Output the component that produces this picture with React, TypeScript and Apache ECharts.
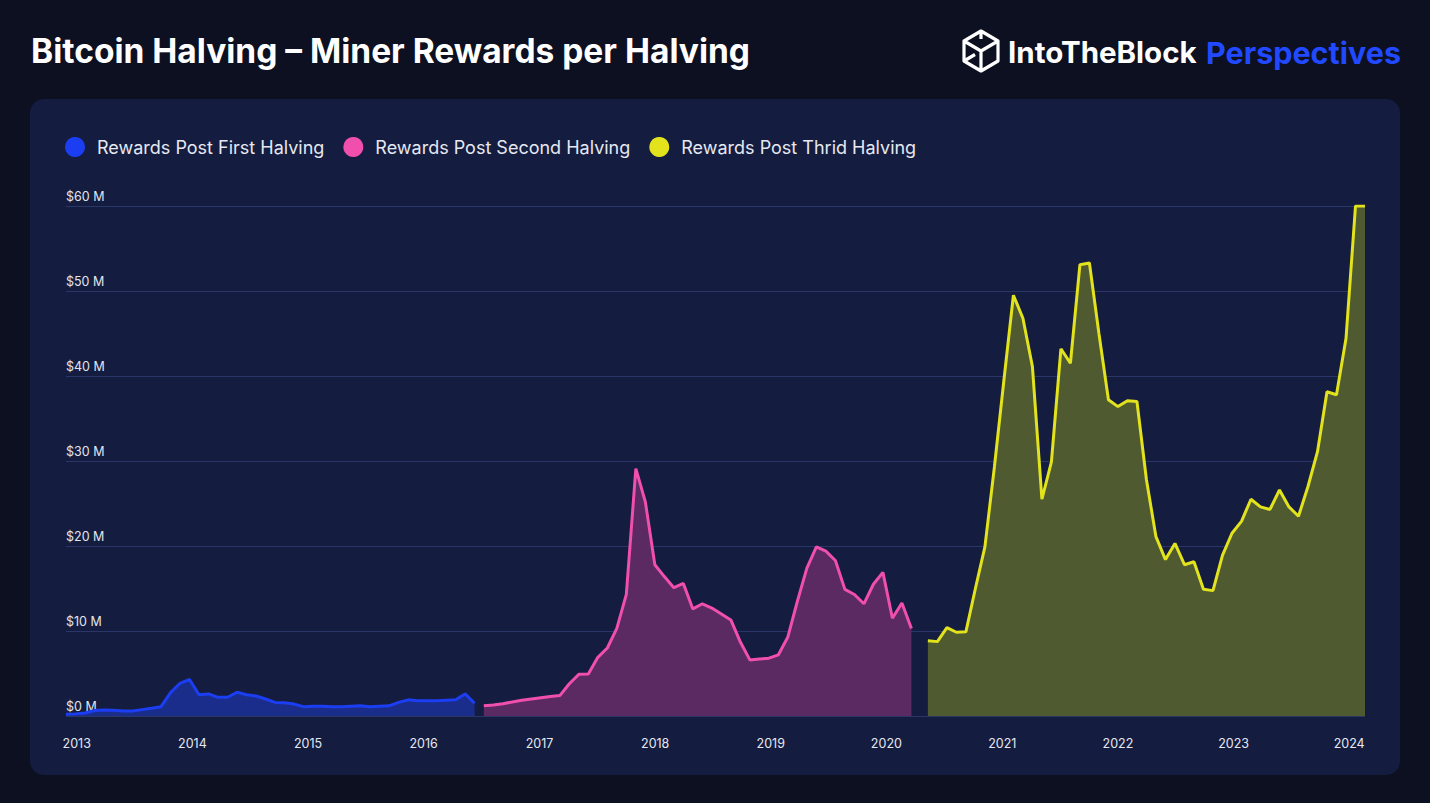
import React, { useEffect, useRef } from "react";
import * as echarts from "echarts";

const seriesNames = [
  "Rewards Post First Halving",
  "Rewards Post Second Halving",
  "Rewards Post Thrid Halving",
];
const seriesStarts = ["2012-11-28", "2016-07-09", "2020-05-11"];
const stepDays = 30;

// Miner rewards in $M, one value every 30 days from each halving
const blueValues = [
  0.2, 0.25, 0.35, 0.65, 0.7, 0.67, 0.6, 0.6, 0.75, 0.9,
  1.1, 2.75, 3.85, 4.3, 2.5, 2.6, 2.2, 2.2, 2.8, 2.5,
  2.35, 2.0, 1.6, 1.57, 1.4, 1.1, 1.15, 1.15, 1.1, 1.1,
  1.15, 1.2, 1.1, 1.15, 1.2, 1.6, 1.9, 1.8, 1.8, 1.8,
  1.85, 1.9, 2.6, 1.5,
];
const pinkValues = [
  1.2, 1.3, 1.45, 1.65, 1.85, 2.0, 2.15, 2.3, 2.4, 3.8,
  4.9, 4.95, 6.9, 8.0, 10.3, 14.3, 29.1, 25.2, 17.8, 16.4,
  15.1, 15.6, 12.6, 13.2, 12.7, 12.0, 11.3, 8.7, 6.6, 6.7,
  6.8, 7.2, 9.3, 13.5, 17.4, 19.9, 19.4, 18.3, 14.9, 14.3,
  13.2, 15.5, 16.9, 11.5, 13.3, 10.3,
];
const yellowValues = [
  8.85, 8.75, 10.4, 9.85, 9.9, 15.0, 19.9, 29.3, 39.5, 49.5,
  46.8, 41.1, 25.5, 29.9, 43.2, 41.5, 53.1, 53.3, 45.0, 37.2,
  36.4, 37.1, 37.0, 27.8, 21.1, 18.4, 20.3, 17.8, 18.15, 14.9,
  14.75, 18.9, 21.5, 22.9, 25.5, 24.6, 24.3, 26.6, 24.6, 23.5,
  27.0, 31.1, 38.15, 37.8, 44.4, 60.0, 60.0,
];
const allValues = [blueValues, pinkValues, yellowValues];

const lineColors = ["#1c3ef2", "#f04fae", "#e2e31c"];
const areaColors = ["#1a2d8a", "#5b2a62", "#4f5a30"];

const yMin = 0;
const yMax = 60;
const yInterval = 10;

const DAY = 24 * 3600 * 1000;
function toPoints(start: string, vals: number[]) {
  const t0 = new Date(start + "T00:00:00").getTime();
  return vals.map((v, i) => [t0 + i * stepDays * DAY, v]);
}

const LOGO_D =
  "M18 1 L35 11 L35 31 L18 41 L1 31 L1 11 Z M1 11 L18 21 L35 11 M18 21 L18 41 M1 31 L12 24.5 M18 1 L18 9";
let registered = false;
function ensureShape() {
  if (registered) return;
  echarts.graphic.registerShape("logo", echarts.graphic.extendPath(LOGO_D, {}) as any);
  registered = true;
}

export default function App() {
  const ref = useRef<HTMLDivElement>(null);
  useEffect(() => {
    if (!ref.current) return;
    ensureShape();
    const chart = echarts.init(ref.current, undefined, { renderer: "svg" });
    const pts = allValues.map((v, i) => toPoints(seriesStarts[i], v));
    const xMin = pts[0][0][0] as number;
    const lastY = pts[2][pts[2].length - 1][0] as number;
    chart.setOption({
      animation: false,
      backgroundColor: "#0c1020",
      textStyle: { fontFamily: "Inter" },
      graphic: [
        {
          type: "rect",
          z: -10,
          shape: { x: 30, y: 99, width: 1370, height: 676, r: 14 },
          style: { fill: "#141c3f" },
        },
        {
          type: "text",
          x: 31,
          y: 51,
          style: {
            text: "Bitcoin Halving – Miner Rewards per Halving",
            fill: "#ffffff",
            fontSize: 33.5,
            fontWeight: 700,
            fontFamily: "Inter",
            verticalAlign: "middle",
          },
        },
        {
          type: "logo",
          x: 963,
          y: 30,
          style: { stroke: "#ffffff", lineWidth: 3.2, fill: null, lineJoin: "round" },
        },
        {
          type: "text",
          x: 1008,
          y: 52,
          style: {
            text: "IntoTheBlock",
            fill: "#ffffff",
            fontSize: 29.5,
            fontWeight: 700,
            fontFamily: "Inter",
            verticalAlign: "middle",
          },
        },
        {
          type: "text",
          x: 1401,
          y: 52,
          style: {
            text: "Perspectives",
            fill: "#2149ff",
            fontSize: 30.5,
            fontWeight: 700,
            fontFamily: "Inter",
            align: "right",
            verticalAlign: "middle",
          },
        },
      ],
      legend: {
        left: 65,
        top: 137,
        padding: 0,
        icon: "circle",
        itemWidth: 20,
        itemHeight: 20,
        itemGap: 19,
        data: seriesNames,
        textStyle: {
          color: "#e6e8f1",
          fontSize: 18,
          fontFamily: "Inter",
          padding: [0, 0, 0, 7],
        },
      },
      grid: { left: 66, right: 65, top: 206, bottom: 87 },
      xAxis: {
        type: "time",
        min: xMin,
        max: lastY,
        splitNumber: 11,
        minInterval: 365 * DAY,
        maxInterval: 366 * DAY,
        axisLine: { show: false },
        axisTick: { show: false },
        splitLine: { show: false },
        axisLabel: {
          color: "#e6e8f1",
          fontSize: 12.5,
          margin: 21,
          formatter: "{yyyy}",
          showMinLabel: false,
          showMaxLabel: false,
        },
      },
      yAxis: {
        type: "value",
        min: yMin,
        max: yMax,
        interval: yInterval,
        axisLine: { show: false },
        axisTick: { show: false },
        splitLine: { lineStyle: { color: "#2b3668", width: 1 } },
        axisLabel: {
          inside: true,
          margin: 0,
          align: "left",
          verticalAlign: "bottom",
          padding: [0, 0, 3, 0],
          color: "#e2e5ee",
          fontSize: 12.5,
          formatter: (v: number) => `$${v} M`,
        },
      },
      series: allValues.map((_, i) => ({
        name: seriesNames[i],
        type: "line",
        data: pts[i],
        showSymbol: false,
        symbol: "none",
        z: 3,
        color: lineColors[i],
        itemStyle: { color: lineColors[i] },
        lineStyle: { color: lineColors[i], width: 3 },
        areaStyle: { color: areaColors[i], opacity: 1 },
      })),
    });
    return () => chart.dispose();
  }, []);
  return (
    <div
      ref={ref}
      style={{ position: "absolute", left: 0, top: 0, width: 1430, height: 803 }}
    />
  );
}
